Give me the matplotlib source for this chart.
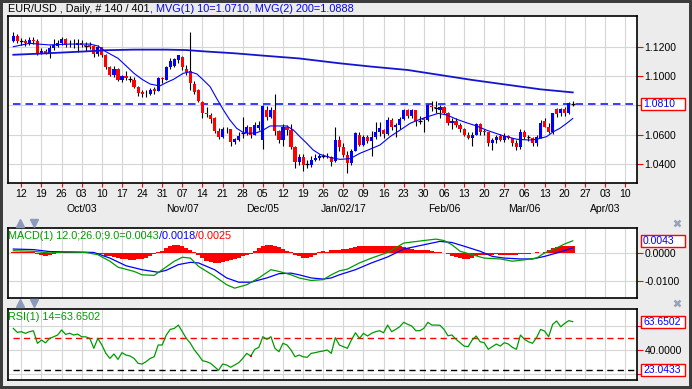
import matplotlib
matplotlib.use("Agg")
import matplotlib.pyplot as plt
from matplotlib.lines import Line2D
from matplotlib.patches import Rectangle
from matplotlib.transforms import blended_transform_factory
import numpy as np

plt.rcParams['font.family'] = ['Liberation Sans', 'DejaVu Sans']

# ---------------- data ----------------
opens = [1.1240,1.1270,1.1235,1.1240,1.1222,1.1245,1.1240,1.1160,1.1172,1.1152,
         1.1190,1.1208,1.1228,1.1252,1.1215,1.1220,1.1212,1.1225,1.1210,1.1212,
         1.1205,1.1150,1.1195,1.1145,1.1060,1.1008,1.1050,1.0970,1.1000,1.0982,
         1.0975,1.0928,1.0890,1.0880,1.0875,1.0910,1.0900,1.0985,1.0975,1.1060,
         1.1070,1.1110,1.1130,1.1050,1.1035,1.0945,1.0905,1.0825,1.0745,1.0735,
         1.0710,1.0625,1.0585,1.0640,1.0635,1.0550,1.0565,1.0608,1.0610,1.0650,
         1.0600,1.0645,1.0565,1.0770,1.0720,1.0765,1.0625,1.0560,1.0650,1.0630,
         1.0515,1.0415,1.0450,1.0395,1.0395,1.0430,1.0440,1.0455,1.0457,1.0445,
         1.0420,1.0560,1.0515,1.0460,1.0405,1.0490,1.0600,1.0530,1.0585,1.0555,
         1.0585,1.0615,1.0630,1.0605,1.0700,1.0655,1.0665,1.0705,1.0765,1.0730,
         1.0765,1.0690,1.0710,1.0700,1.0795,1.0785,1.0765,1.0785,1.0750,1.0680,
         1.0695,1.0665,1.0640,1.0600,1.0575,1.0600,1.0675,1.0625,1.0615,1.0540,
         1.0560,1.0590,1.0560,1.0590,1.0575,1.0545,1.0515,1.0620,1.0585,1.0580,
         1.0545,1.0580,1.0690,1.0655,1.0620,1.0775,1.0745,1.0775,1.0745,1.0812]
highs = [1.1300,1.1285,1.1260,1.1255,1.1265,1.1265,1.1250,1.1190,1.1185,1.1210,
         1.1255,1.1245,1.1265,1.1260,1.1245,1.1250,1.1255,1.1245,1.1235,1.1235,
         1.1215,1.1210,1.1200,1.1150,1.1070,1.1065,1.1055,1.1010,1.1035,1.1000,
         1.0990,1.0935,1.0905,1.0905,1.0920,1.0925,1.0990,1.0990,1.1070,1.1125,
         1.1125,1.1145,1.1135,1.1075,1.1300,1.0965,1.0910,1.0830,1.0790,1.0750,
         1.0720,1.0645,1.0650,1.0655,1.0640,1.0580,1.0615,1.0720,1.0665,1.0655,
         1.0685,1.0690,1.0800,1.0795,1.0785,1.0875,1.0630,1.0670,1.0665,1.0670,
         1.0520,1.0470,1.0470,1.0425,1.0455,1.0470,1.0470,1.0470,1.0475,1.0455,
         1.0652,1.0590,1.0545,1.0490,1.0500,1.0620,1.0620,1.0600,1.0600,1.0625,
         1.0685,1.0685,1.0640,1.0720,1.0710,1.0680,1.0720,1.0775,1.0775,1.0775,
         1.0770,1.0725,1.0720,1.0810,1.0830,1.0830,1.0805,1.0795,1.0755,1.0715,
         1.0710,1.0680,1.0645,1.0620,1.0615,1.0680,1.0680,1.0635,1.0620,1.0575,
         1.0600,1.0605,1.0610,1.0600,1.0580,1.0560,1.0635,1.0630,1.0600,1.0585,
         1.0600,1.0700,1.0715,1.0680,1.0750,1.0780,1.0780,1.0785,1.0825,1.0830]
lows = [1.1230,1.1225,1.1210,1.1205,1.1215,1.1220,1.1145,1.1150,1.1150,1.1120,
        1.1180,1.1200,1.1215,1.1200,1.1195,1.1190,1.1165,1.1195,1.1170,1.1185,
        1.1130,1.1135,1.1130,1.1050,1.1000,1.0995,1.0965,1.0960,1.0975,1.0960,
        1.0915,1.0865,1.0860,1.0860,1.0870,1.0880,1.0895,1.0955,1.0970,1.1050,
        1.1060,1.1090,1.1040,1.1010,1.0905,1.0880,1.0820,1.0710,1.0720,1.0680,
        1.0610,1.0570,1.0575,1.0610,1.0520,1.0535,1.0555,1.0580,1.0600,1.0580,
        1.0595,1.0630,1.0505,1.0700,1.0710,1.0600,1.0540,1.0525,1.0600,1.0500,
        1.0370,1.0390,1.0352,1.0370,1.0380,1.0420,1.0430,1.0440,1.0440,1.0385,
        1.0415,1.0490,1.0445,1.0340,1.0390,1.0485,1.0520,1.0525,1.0545,1.0455,
        1.0570,1.0590,1.0580,1.0600,1.0630,1.0585,1.0640,1.0700,1.0715,1.0715,
        1.0660,1.0675,1.0620,1.0690,1.0760,1.0750,1.0710,1.0740,1.0665,1.0640,
        1.0650,1.0620,1.0590,1.0570,1.0520,1.0595,1.0600,1.0595,1.0525,1.0495,
        1.0545,1.0555,1.0550,1.0570,1.0520,1.0495,1.0505,1.0570,1.0555,1.0525,
        1.0525,1.0575,1.0650,1.0610,1.0605,1.0720,1.0725,1.0730,1.0740,1.0795]
closes = [1.1270,1.1240,1.1237,1.1222,1.1248,1.1240,1.1158,1.1172,1.1155,1.1190,
          1.1212,1.1228,1.1250,1.1215,1.1210,1.1216,1.1225,1.1210,1.1208,1.1200,
          1.1150,1.1200,1.1145,1.1060,1.1010,1.1050,1.0975,1.1000,1.0985,1.0978,
          1.0928,1.0885,1.0880,1.0875,1.0905,1.0900,1.0985,1.0978,1.1060,1.1105,
          1.1115,1.1140,1.1060,1.1030,1.0950,1.0893,1.0830,1.0745,1.0740,1.0705,
          1.0625,1.0585,1.0640,1.0635,1.0550,1.0568,1.0590,1.0610,1.0650,1.0600,
          1.0665,1.0668,1.0795,1.0720,1.0765,1.0625,1.0560,1.0655,1.0630,1.0515,
          1.0415,1.0450,1.0395,1.0397,1.0430,1.0440,1.0455,1.0457,1.0445,1.0415,
          1.0560,1.0515,1.0460,1.0405,1.0490,1.0610,1.0530,1.0585,1.0555,1.0585,
          1.0615,1.0645,1.0605,1.0700,1.0655,1.0665,1.0705,1.0765,1.0730,1.0765,
          1.0690,1.0693,1.0700,1.0800,1.0785,1.0783,1.0785,1.0750,1.0680,1.0695,
          1.0665,1.0640,1.0600,1.0580,1.0600,1.0675,1.0615,1.0615,1.0540,1.0560,
          1.0585,1.0560,1.0590,1.0575,1.0545,1.0515,1.0620,1.0585,1.0582,1.0545,
          1.0585,1.0680,1.0655,1.0620,1.0745,1.0740,1.0775,1.0745,1.0815,1.0810]

ma10_bar = [0, 4, 9, 14, 19, 21, 23, 26, 28, 30, 32, 34, 36.4, 38, 39.8, 42.2, 43.9, 45.6,
            47.2, 48.9, 50.5, 52.2, 53.8, 55.5, 57.2, 58.8, 60.5, 62.1, 63.8, 67.9, 69.6,
            71.2, 72.9, 74.5, 76.2, 78.7, 81.2, 83.7, 86.1, 88.6, 91.1, 93.6, 96.1, 98.6,
            101.0, 103.5, 105.6, 107.7, 110.2, 112.6, 115.1, 117.6, 121.7, 125.1, 128.4,
            130.0, 132.5, 134.2, 135.8, 137.5, 139]
ma10_val = [1.1200, 1.1223, 1.1212, 1.1218, 1.1218, 1.1205, 1.1166, 1.1121, 1.1070, 1.1018,
            1.0977, 1.0945, 1.0932, 1.0955, 1.0977, 1.1018, 1.1029, 1.1014,
            1.0973, 1.0927, 1.0848, 1.0768, 1.0700, 1.0643, 1.0613, 1.0609, 1.0613, 1.0631,
            1.0659, 1.0659, 1.0631, 1.0586, 1.0541, 1.0495, 1.0465, 1.0444, 1.0431, 1.0436,
            1.0472, 1.0500, 1.0529, 1.0586, 1.0631, 1.0677, 1.0704, 1.0727, 1.0745, 1.0734,
            1.0704, 1.0681, 1.0659, 1.0630, 1.0592, 1.0568, 1.0563, 1.0568, 1.0586, 1.0620,
            1.0643, 1.0677, 1.0710]

ma200_bar = [0, 6, 12, 18, 23, 30, 38, 43, 48, 55, 63, 71, 81, 89, 98, 106, 114, 123, 131, 139]
ma200_val = [1.1145, 1.1152, 1.1160, 1.1168, 1.1176, 1.1180, 1.1180, 1.1177, 1.1167, 1.1155,
             1.1137, 1.1120, 1.1087, 1.1064, 1.1041, 1.1007, 1.0973, 1.0939, 1.0909, 1.0888]

macd_bar = [0, 5, 9, 13, 18, 21, 24, 26, 30, 32, 35, 37, 40, 42, 44, 46, 50, 53, 55, 58,
            61, 64, 66, 69, 71, 74, 77, 79, 81, 83, 86, 89, 93, 97, 102, 105, 107, 109,
            111, 114, 117, 121, 124, 127, 130, 132, 135, 137, 139]
macd_val = [0.0008, 0.0006, 0.0000, 0.0004, 0.0002, -0.0006, -0.0029, -0.0050, -0.0065,
            -0.0077, -0.0079, -0.0059, -0.0029, -0.0015, -0.0018, -0.0047, -0.0082, -0.0112,
            -0.0124, -0.0112, -0.0088, -0.0059, -0.0065, -0.0077, -0.0088, -0.0097, -0.0094,
            -0.0077, -0.0063, -0.0057, -0.0035, -0.0018, 0.0002, 0.0035, 0.0044, 0.0049,
            0.0044, 0.0029, 0.0006, -0.0006, -0.0018, -0.0021, -0.0029, -0.0024, -0.0018,
            0.0000, 0.0018, 0.0032, 0.0043]
signal_bar = [0, 5, 9, 13, 20, 24, 28, 32, 36, 38, 41, 44, 46, 50, 53, 56, 59, 63, 66, 69,
              71, 74, 77, 79, 81, 85, 89, 93, 97, 102, 106, 109, 112, 116, 119, 122, 126,
              129, 132, 135, 139]
signal_val = [0.0014, 0.0012, 0.0005, 0.0004, 0.0002, -0.0018, -0.0045, -0.0059, -0.0068,
              -0.0061, -0.0041, -0.0033, -0.0035, -0.0059, -0.0088, -0.0103, -0.0103, -0.0088,
              -0.0073, -0.0071, -0.0077, -0.0088, -0.0092, -0.0088, -0.0077, -0.0059, -0.0035,
              -0.0014, 0.0014, 0.0029, 0.0041, 0.0037, 0.0024, 0.0006, -0.0012, -0.0018,
              -0.0021, -0.0021, -0.0012, 0.0000, 0.0018]
hist_vals = [0.0004, 0.0004, 0.0004, 0.0004, 0.0004, 0.0003,
             -0.0004, -0.0008, -0.0009, -0.0008, -0.0004,
             0.0003, 0.0005, 0.0005, 0.0005, 0.0005, 0.0004, 0.0004,
             0.0003, 0.0002, 0.0001, -0.0002, -0.0005, -0.0009,
             -0.0012, -0.0015, -0.0018, -0.0020, -0.0022, -0.0023, -0.0023, -0.0022, -0.0020,
             -0.0016, -0.0011, -0.0005,
             0.0002, 0.0008, 0.0016, 0.0024, 0.0029, 0.0029, 0.0025, 0.0018, 0.0010, 0.0002,
             -0.0008, -0.0018, -0.0028, -0.0033, -0.0035, -0.0035, -0.0032, -0.0028, -0.0024,
             -0.0020, -0.0016, -0.0012, -0.0007, -0.0002,
             0.0008, 0.0016, 0.0024, 0.0029, 0.0029, 0.0026, 0.0022, 0.0015, 0.0008, 0.0002,
             -0.0007, -0.0012, -0.0016, -0.0017, -0.0013, -0.0008,
             0.0005, 0.0006, 0.0002,
             0.0010, 0.0012,
             0.0012, 0.0013, 0.0015, 0.0018, 0.0021,
             0.0023, 0.0024, 0.0024, 0.0025, 0.0025, 0.0024, 0.0024, 0.0025, 0.0025, 0.0024,
             0.0023, 0.0022, 0.0018,
             0.0014, 0.0012, 0.0011, 0.0011, 0.0010, 0.0008, 0.0004,
             0.0002, 0.0001, -0.0004,
             -0.0010, -0.0015, -0.0019, -0.0021, -0.0021, -0.0016, -0.0010,
             -0.0006, -0.0006, -0.0007, -0.0006, -0.0005, -0.0006, -0.0007, -0.0008, -0.0007,
             -0.0006, -0.0005, -0.0004,
             -0.0002, 0.0001, 0.0002, 0.0001, 0.0004,
             0.0012, 0.0018, 0.0022, 0.0025, 0.0024, 0.0025, 0.0025]
rsi_vals = [58, 54.7, 55.3, 53.9, 55.3, 56, 45.6, 48.3, 46, 49.7, 51, 52.5, 56.7, 53, 54, 52.5,
            53.3, 51, 51, 49.7, 41.4, 49.7, 44.2, 37.2, 33, 36.7, 32.2, 37.8, 35.8, 35, 33,
            28.9, 28.3, 30.3, 33, 34.4, 44.2, 44.2,
            52.5, 57.2, 58, 60.8, 55.3, 49.7, 45.6, 40, 35.8, 31.1, 30.3, 28.9, 26.1, 23.04,
            28.3, 27.5, 25.6, 27.5, 29.4, 33, 37.2, 35, 40.6, 42.2, 51.1, 48.9, 51.1, 41.4,
            38.6, 45.6, 44.2, 40, 34.4, 35.8, 34.4, 33.9, 37.2, 37.8, 38.6, 39.2, 40, 37.2, 50.3,
            44.2, 42.8, 41.4, 48.3, 54.4, 49.7, 53.9, 51.7, 53.9, 55.3, 56.1, 54.4, 60.8, 55.3,
            57.2, 59.4, 63.1, 61.4, 60, 56.1, 56.1, 58.1, 63.1, 60.8, 60.8, 60.6, 57.2, 51.9,
            52.5, 48.9, 46.1, 43.3, 42.8, 48.3, 51.7, 46.9, 46.1, 40.6, 42.8, 45, 43.3, 46.1,
            45, 42.2, 40.6, 52.5, 48.9, 46.9, 45.6, 50.3, 57.2, 55.8, 51.1, 61.4, 64.2, 59.4,
            62.2, 64.5, 63.65]
rsi_mark_bar = 59

week_idx = list(range(2, 153, 5))
week_labels = ["12", "19", "26", "03", "10", "17", "24", "31", "07", "14", "21", "28",
               "05", "12", "19", "26", "02", "09", "16", "23", "30", "06", "13", "20", "27",
               "06", "13", "20", "27", "03", "10"]
month_idx = [17, 42, 62, 82, 107, 127, 147]
month_labels = ["Oct/03", "Nov/07", "Dec/05", "Jan/02/17", "Feb/06", "Mar/06", "Apr/03"]

last_price = 1.0810
macd_last, signal_last, hist_last = 0.0043, 0.0018, 0.0025
rsi_last, rsi_low = 63.6502, 23.0433
rsi_mid = 50

# grid levels; labels only where the reference shows them (others are under value boxes)
price_ticks = [1.04, 1.06, 1.08, 1.10, 1.12]
price_labels = ["1.0400", "1.0600", "", "1.1000", "1.1200"]
macd_ticks = [-0.01, 0.0]
macd_labels = ["-0.0100", "0.0000"]
rsi_ticks = [20, 40, 60]
rsi_labels = ["", "40.0000", ""]

# ---------------- drawing ----------------
W, H = 692, 389
fig = plt.figure(figsize=(W / 100, H / 100), dpi=100)
fig.patch.set_facecolor('#ececec')


def rect(l, t, r, b):
    return [l / W, 1 - b / H, (r - l) / W, (b - t) / H]


ax1 = fig.add_axes(rect(8, 16, 637, 183))
ax2 = fig.add_axes(rect(8, 228, 637, 298))
ax3 = fig.add_axes(rect(8, 309, 637, 380))

x = np.arange(len(closes))
o = np.array(opens); hh = np.array(highs); ll = np.array(lows); c = np.array(closes)
XL = (-1.32, 154.96)
GRID = '#d6d6d6'
BLUE = '#0000ff'
RED = '#ff0000'
GREEN = '#009a00'
FS = 7.5

for ax in (ax1, ax2, ax3):
    ax.set_facecolor('white')
    ax.set_xlim(*XL)
    ax.set_xticks(week_idx)
    ax.grid(True, color=GRID, lw=0.8)
    ax.set_axisbelow(True)
    for s in ax.spines.values():
        s.set_color('black')
        s.set_linewidth(1.2)
    ax.yaxis.tick_right()
    ax.tick_params(axis='y', colors=RED, labelcolor='black', length=4, width=0.8,
                   pad=1.5, labelsize=FS)
    ax.tick_params(axis='x', length=0, labelbottom=False)

ax1.tick_params(axis='x', colors=RED, length=3, width=0.8, direction='out', labelbottom=False)

# ---- price panel ----
ax1.set_ylim(1.02696, 1.14096)
ax1.set_yticks(price_ticks)
ax1.set_yticklabels(price_labels)
ax1.vlines(x, ll, hh, color='black', lw=0.8, zorder=3)
body_col = np.where(c >= o, BLUE, RED)
ax1.bar(x, np.abs(c - o), bottom=np.minimum(o, c), width=0.78, color=body_col,
        linewidth=0, zorder=4)
doji = np.abs(c - o) < 0.0004
ax1.hlines(c[doji], x[doji] - 0.45, x[doji] + 0.45, color='black', lw=0.9, zorder=5)
ax1.plot(ma200_bar, ma200_val, color='#1515d0', lw=1.3, zorder=6)
ax1.plot(ma10_bar, ma10_val, color=BLUE, lw=0.8, zorder=6)
ax1.hlines(last_price, 0, XL[1], color='#1a1aff', lw=1.2, linestyles=(0, (4.5, 3)), zorder=2)

tr = blended_transform_factory(ax1.transData, ax1.transAxes)
for i, lab in zip(week_idx, week_labels):
    ax1.text(i, (183 - 193.6) / 167, lab, transform=tr, ha='center', va='center', fontsize=FS)
for i, lab in zip(month_idx, month_labels):
    ax1.text(i, (183 - 209) / 167, lab, transform=tr, ha='center', va='center', fontsize=FS)

# ---- MACD panel ----
ax2.set_ylim(-0.01588, 0.00882)
ax2.set_yticks(macd_ticks)
ax2.set_yticklabels(macd_labels)
ax2.bar(x, hist_vals, width=1.0, color=RED, linewidth=0, zorder=2)
ax2.plot(signal_bar, signal_val, color=BLUE, lw=0.9, zorder=3)
ax2.plot(macd_bar, macd_val, color=GREEN, lw=0.9, zorder=4)

# ---- RSI panel ----
ax3.set_ylim(15.0, 74.2)
ax3.set_yticks(rsi_ticks)
ax3.set_yticklabels(rsi_labels)
ax3.hlines(rsi_mid, 0, XL[1], color=RED, lw=1.0, linestyles=(0, (4.5, 3)), zorder=2)
ax3.hlines(rsi_low, 0, XL[1], color='black', lw=1.0, linestyles=(0, (4.5, 3)), zorder=2)
ax3.plot(x, rsi_vals, color=GREEN, lw=0.9, zorder=3)
ax3.plot([rsi_mark_bar], [rsi_vals[rsi_mark_bar]], 's', color=RED, ms=1.8, mew=0, zorder=4)

# ---- legends / titles ----
renderer = fig.canvas.get_renderer()


def seq_text(xpx, ypx, parts, fs=8):
    xx = xpx
    for txt, col in parts:
        t = fig.text(xx / W, 1 - ypx / H, txt, color=col, fontsize=fs, ha='left', va='center')
        bb = t.get_window_extent(renderer)
        xx = bb.x1


seq_text(8, 9.5, [("EUR/USD , Daily, # 140 / 401", 'black'),
                  (", MVG(1) 10=1.0710, MVG(2) 200=1.0888", BLUE)], fs=7.8)
seq_text(8, 235.5, [(f"MACD(1) 12.0;26.0;9.0={macd_last:.4f}", GREEN),
                    (f"/{signal_last:.4f}", BLUE), (f"/{hist_last:.4f}", RED)], fs=7.8)
seq_text(8, 316.5, [(f"RSI(1) 14={rsi_last:.4f}", GREEN)], fs=7.8)


# ---- value boxes on the right ----
def value_box(ax, val, txt):
    ypix = ax.transData.transform((0, val))[1]
    fig.add_artist(Rectangle((640.5 / W, (ypix - 6) / H), 44 / W, 12 / H,
                             transform=fig.transFigure, facecolor='white',
                             edgecolor=RED, lw=1.0, zorder=10))
    fig.text(643 / W, ypix / H, txt, color=BLUE, fontsize=FS, ha='left', va='center',
             zorder=11)


value_box(ax1, last_price, f"{last_price:.4f}")
value_box(ax2, macd_last, f"{macd_last:.4f}")
value_box(ax3, rsi_last, f"{rsi_last:.4f}")
value_box(ax3, rsi_low, f"{rsi_low:.4f}")

# ---- small panel controls ----
for ypx in (222.5, 303.3):
    fig.add_artist(Line2D([20 / W], [1 - ypx / H], marker='^', ms=6, color='#8b9ab8',
                          transform=fig.transFigure, linestyle='none'))
    fig.add_artist(Line2D([34 / W], [1 - ypx / H], marker='v', ms=6, color='#8b9ab8',
                          transform=fig.transFigure, linestyle='none'))
    fig.add_artist(Line2D([677 / W], [1 - ypx / H], marker='x', ms=5, mew=1.8,
                          color='#9aa3b5', transform=fig.transFigure, linestyle='none'))

# ---- dark outer frame ----
fig.add_artist(Rectangle((0, 0), 1, 1, transform=fig.transFigure, fill=False,
                         edgecolor='#3c3c3c', lw=4.3, zorder=20))

fig.savefig('out.png', dpi=100, facecolor=fig.get_facecolor())
